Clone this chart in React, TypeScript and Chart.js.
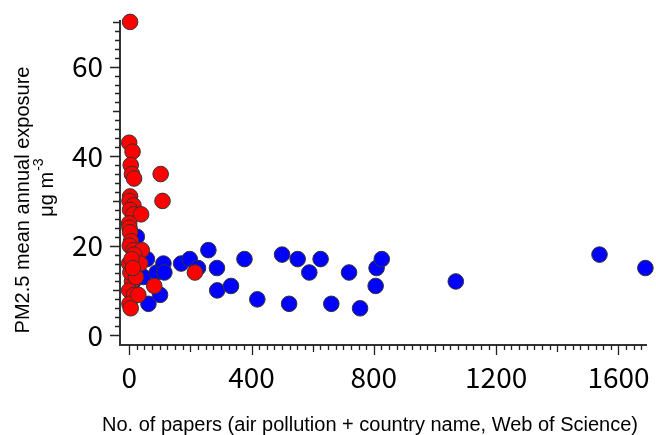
import React, { useEffect, useRef } from 'react';
import { Chart, registerables } from 'chart.js';

Chart.register(...registerables);

// countries with many papers (blue)
const papersBlue = [25, 14, 30, 47, 47, 58, 63, 90, 101, 112, 115, 170, 198, 225, 259, 287, 288, 333, 377, 419, 500, 523, 551, 589, 626, 661, 719, 755, 806, 809, 826, 1068, 1538, 1688, 8, 20];
const pm25Blue = [22, 12, 14, 17, 13, 17, 7, 14, 9, 16, 14, 16, 17, 15, 19, 15, 10, 11, 17, 8, 18, 7, 17, 14, 17, 7, 14, 6, 11, 15, 17, 12, 18, 15, 15, 18];

// countries with few papers (red)
const papersRed = [3, 0, 11, 5, 9, 16, 103, 109, 3, 1, 14, 3, 14, 39, 0, 1, 3, 6, 2, 14, 41, 16, 36, 0, 8, 215, 82, 9, 0, 16, 1, 5, 4, 22, 30, 12];
const pm25Red = [70, 43, 41, 38, 36, 35, 36, 30, 31, 30, 29, 28, 27, 27, 25, 24, 23, 21, 20, 19, 19, 18, 16, 16, 17, 14, 11, 12, 10, 9, 7, 6, 14, 13, 9, 15];

const xTicks = [0, 400, 800, 1200, 1600];
const yTicks = [0, 20, 40, 60];

const xTitle = 'No. of papers (air pollution + country name, Web of Science)';
const yTitle = 'PM2.5 mean annual exposure';
const yUnit = 'μg m';
const yUnitSup = '-3';

const toPoints = (xs: number[], ys: number[]) => xs.map((v, i) => ({ x: v, y: ys[i] }));

// Igor-style outside tick marks
const tickMarks = {
  id: 'tickMarks',
  afterDraw(chart: any) {
    const { ctx, chartArea, scales } = chart;
    const { x, y } = scales;
    ctx.save();
    ctx.strokeStyle = '#222';
    ctx.lineWidth = 1.3;
    ctx.beginPath();
    for (let v = 0; v <= x.max; v += 25) {
      const len = v % 400 === 0 ? 10 : v % 200 === 0 ? 7 : 5;
      const px = Math.round(x.getPixelForValue(v)) + 0.5;
      ctx.moveTo(px, chartArea.bottom);
      ctx.lineTo(px, chartArea.bottom + len);
    }
    for (let v = 0; v <= y.max; v += 2) {
      const len = v % 20 === 0 ? 10 : v % 10 === 0 ? 7 : 5;
      const py = Math.round(y.getPixelForValue(v)) + 0.5;
      ctx.moveTo(chartArea.left, py);
      ctx.lineTo(chartArea.left - len, py);
    }
    ctx.stroke();
    ctx.restore();
  },
};

// axis titles (with superscript unit)
const axisTitles = {
  id: 'axisTitles',
  afterDraw(chart: any) {
    const { ctx, chartArea } = chart;
    ctx.save();
    ctx.fillStyle = '#000';
    ctx.font = '20px "Liberation Sans", Arial, sans-serif';
    ctx.textBaseline = 'alphabetic';

    ctx.textAlign = 'center';
    ctx.fillText(xTitle, chartArea.left + 250, 431);

    ctx.save();
    ctx.translate(29, 200);
    ctx.rotate(-Math.PI / 2);
    ctx.fillText(yTitle, 0, 0);
    ctx.restore();

    ctx.save();
    ctx.translate(53, 188);
    ctx.rotate(-Math.PI / 2);
    ctx.textAlign = 'left';
    const w1 = ctx.measureText(yUnit).width;
    ctx.font = '14px "Liberation Sans", Arial, sans-serif';
    const w2 = ctx.measureText(yUnitSup).width;
    const start = -(w1 + w2) / 2;
    ctx.fillText(yUnitSup, start + w1 + 1, -10);
    ctx.font = '20px "Liberation Sans", Arial, sans-serif';
    ctx.fillText(yUnit, start, 0);
    ctx.restore();

    ctx.restore();
  },
};

// fixed axis box sizes, no extra label padding
const fixBox = (size: 'width' | 'height', value: number) => (s: any) => {
  s[size] = value;
  s.paddingLeft = 0;
  s.paddingRight = 0;
  s.paddingTop = 0;
  s.paddingBottom = 0;
};

const App = () => {
  const canvasRef = useRef<HTMLCanvasElement>(null);
  const chartRef = useRef<Chart | null>(null);

  useEffect(() => {
    if (!canvasRef.current) return;
    if (chartRef.current) chartRef.current.destroy();

    const tickFont = { family: '"Noto Sans CJK JP", "Noto Sans", sans-serif', size: 28 };

    chartRef.current = new Chart(canvasRef.current, {
      type: 'scatter',
      data: {
        datasets: [
          {
            label: 'few papers',
            data: toPoints(papersRed, pm25Red),
            backgroundColor: '#ff0000',
            borderColor: '#333',
            borderWidth: 1,
            pointRadius: 7.8,
            clip: false,
          },
          {
            label: 'many papers',
            data: toPoints(papersBlue, pm25Blue),
            backgroundColor: '#0000ff',
            borderColor: '#333',
            borderWidth: 1,
            pointRadius: 7.8,
            clip: false,
          },
        ],
      },
      options: {
        responsive: false,
        animation: false,
        layout: { padding: { top: 21, right: 10, left: 0, bottom: 0 } },
        plugins: {
          legend: { display: false },
          tooltip: { enabled: false },
        },
        scales: {
          x: {
            type: 'linear',
            min: -30,
            max: 1690,
            afterBuildTicks: (s: any) => { s.ticks = xTicks.map(v => ({ value: v })); },
            afterFit: fixBox('height', 90),
            grid: { display: false, drawTicks: false },
            border: { display: true, color: '#333', width: 2 },
            ticks: {
              color: '#000', font: tickFont, padding: 16, maxRotation: 0, autoSkip: false,
              callback: (v: any) => String(v),
            },
          },
          y: {
            type: 'linear',
            min: -2.2,
            max: 70.2,
            afterBuildTicks: (s: any) => { s.ticks = yTicks.map(v => ({ value: v })); },
            afterFit: fixBox('width', 120),
            grid: { display: false, drawTicks: false },
            border: { display: true, color: '#333', width: 2 },
            ticks: { color: '#000', font: tickFont, padding: 17, callback: (v: any) => String(v) },
          },
        },
      },
      plugins: [tickMarks, axisTitles],
    });

    return () => {
      if (chartRef.current) {
        chartRef.current.destroy();
        chartRef.current = null;
      }
    };
  }, []);

  return (
    <div style={{ position: 'absolute', left: 0, top: 0, width: 656, height: 435, background: '#fff' }}>
      <canvas ref={canvasRef} width={656} height={435} />
    </div>
  );
};

export default App;
